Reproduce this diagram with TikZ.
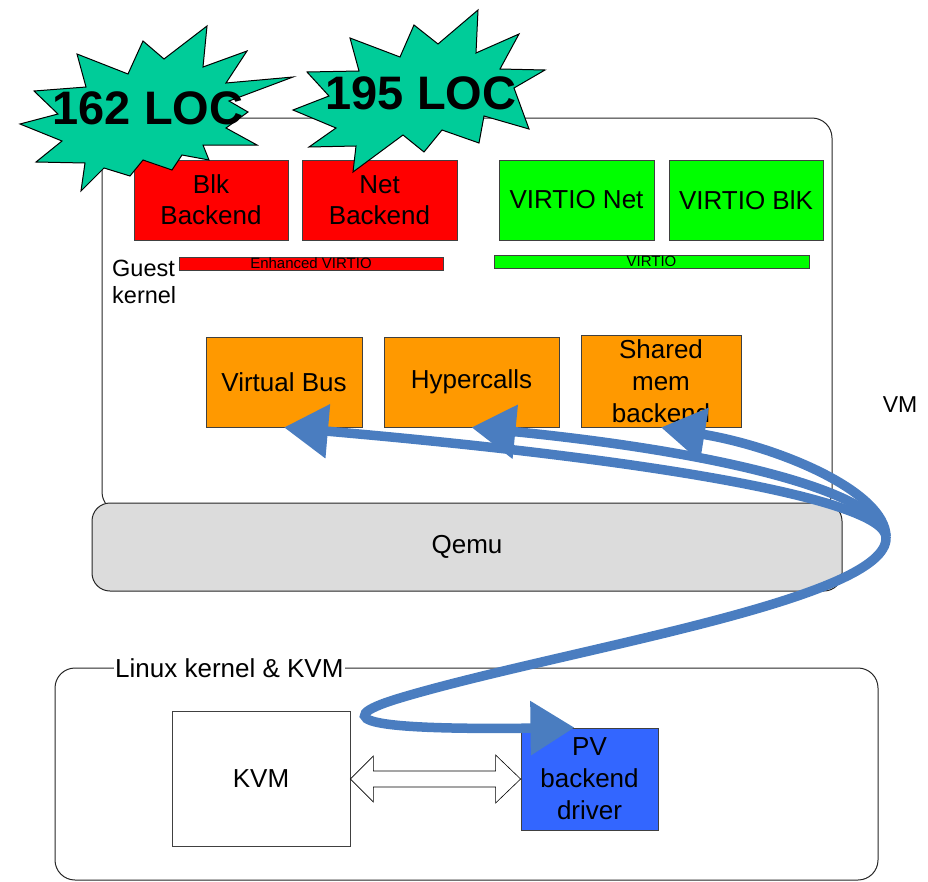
\documentclass[tikz,border=0pt]{standalone}
\usepackage{fontspec}
\setmainfont{Liberation Sans}
\usetikzlibrary{positioning}
\usetikzlibrary{calc}
\usetikzlibrary{arrows.meta}

\definecolor{burstgreen}{HTML}{00CC99}
\definecolor{backendred}{HTML}{FF0000}
\definecolor{virtiogreen}{HTML}{00FF00}
\definecolor{busorange}{HTML}{FF9900}
\definecolor{pvblue}{HTML}{3366FF}
\definecolor{flowblue}{HTML}{4A7DC0}
\definecolor{qemugray}{HTML}{DCDCDC}

\tikzset{
  box/.style={draw=black!75, line width=0.8pt, align=center, inner sep=0pt, font=\fontsize{26}{31}\selectfont},
  bar/.style={draw=black!75, line width=0.8pt, inner sep=0pt, minimum height=13pt, font=\fontsize{15}{15}\selectfont},
  frame/.style={draw=black!85, line width=1pt, rounded corners=20pt},
  burst/.style={draw=black, line width=1pt, fill=burstgreen},
  loc/.style={font=\fontsize{47}{50}\selectfont\bfseries},
  flow/.style={draw=flowblue, line width=9.5pt, -{Triangle[length=44pt,width=52pt]}},
  hollow/.style={draw=black, line width=0.6pt, fill=white},
}

\begin{document}
\begin{tikzpicture}[x=1pt,y=-1pt]
\useasboundingbox (0,0) rectangle (928,881);

% guest side
\draw[frame] (102,118) rectangle (832,512);
\node[frame, fill=qemugray, rounded corners=18pt, minimum width=750pt, minimum height=88pt, font=\fontsize{26}{26}\selectfont] (qemu) at (467,547) {Qemu};

\node[box, fill=backendred, minimum width=154pt, minimum height=80pt] (blk) at (211,200) {Blk\\Backend};
\node[box, fill=backendred, minimum width=155pt, minimum height=80pt] (net) at (379.5,200) {Net\\Backend};
\node[box, fill=virtiogreen, minimum width=155pt, minimum height=80pt] (vnet) at (576.5,200) {VIRTIO Net};
\node[box, fill=virtiogreen, minimum width=154pt, minimum height=80pt] (vblk) at (746,200) {VIRTIO BlK};

\node[bar, fill=backendred, minimum width=264pt] (envirtio) at (311,263.5) {Enhanced VIRTIO};
\node[bar, fill=virtiogreen, minimum width=315pt] (virtio) at (651.5,261.5) {VIRTIO};

\node[anchor=west, align=left, inner sep=0pt, font=\fontsize{23.5}{27}\selectfont] (guest) at (112,282) {Guest\\kernel};

\node[box, fill=busorange, minimum width=156pt, minimum height=90pt] (vbus) at (284,382) {Virtual Bus};
\node[box, fill=busorange, minimum width=175pt, minimum height=90pt] (hyper) at (471.5,382) {Hypercalls};
\node[box, fill=busorange, minimum width=160pt, minimum height=92pt, font=\fontsize{26}{32}\selectfont] (shmem) at (661,381) {Shared\\mem\\backend};

\node[font=\fontsize{23}{23}\selectfont] (vm) at (900,405) {VM};

% LOC bursts
\draw[burst] (207,26) -- (164,59) -- (143,41) -- (128,74) -- (77,54) -- (86,87) -- (34,91) -- (58,114) -- (20,124) -- (62,141) -- (36,162) -- (85,163) -- (81,191) -- (104,168) -- (130,176) -- (143,160) -- (172,170) -- (182,155) -- (209,160) -- (203,145) -- (257,145) -- (226,128) -- (248,112) -- (229,101) -- (293,77) -- (226,83) -- (247,51) -- (203,67) -- cycle;
\node[loc] (loc1) at (148,108) {162 LOC};

\draw[burst] (478,10) -- (476,53) -- (519,34) -- (500,69) -- (545,70) -- (514,88) -- (529,129) -- (484,116) -- (479,143) -- (442,130) -- (424,152) -- (403,135) -- (353,172) -- (356,146) -- (309,147) -- (336,128) -- (293,110) -- (329,96) -- (307,72) -- (359,71) -- (350,38) -- (400,57) -- (414,25) -- (438,44) -- cycle;
\node[loc] (loc2) at (421,93) {195 LOC};

% host side
\draw[frame] (55,668) rectangle (878,880);
\node[fill=white, anchor=west, inner sep=1pt, font=\fontsize{26}{26}\selectfont] (linux) at (114,668) {Linux kernel \& KVM};

\node[box, fill=white, minimum width=178pt, minimum height=135pt] (kvm) at (261,779) {KVM};
\node[box, fill=pvblue, minimum width=137pt, minimum height=102pt, font=\fontsize{26}{32}\selectfont] (pv) at (589.5,779) {PV\\backend\\driver};

\draw[hollow] (kvm.east) -- ++(23,-23) -- ++(0,15) -- ($(pv.west)+(-25,-8)$) -- ++(0,-16) -- (pv.west) -- ++(-25,24) -- ++(0,-16) -- ($(kvm.east)+(23,8)$) -- ++(0,15) -- cycle;

% blue flows
\coordinate (turn) at (886,537);
\coordinate (swing) at (400,698);
\draw[flow] (turn) .. controls (886,492) and (780,447) .. (shmem.south);
\draw[flow] (turn) .. controls (882,492) and (720,452) .. (hyper.south);
\draw[flow] (turn) .. controls (884,502) and (680,462) .. (vbus.south);
\draw[flow] (turn) .. controls (890,600) and (560,650) .. (swing) .. controls (320,722) and (380,730) .. ([xshift=-15pt]pv.north);

\end{tikzpicture}
\end{document}
